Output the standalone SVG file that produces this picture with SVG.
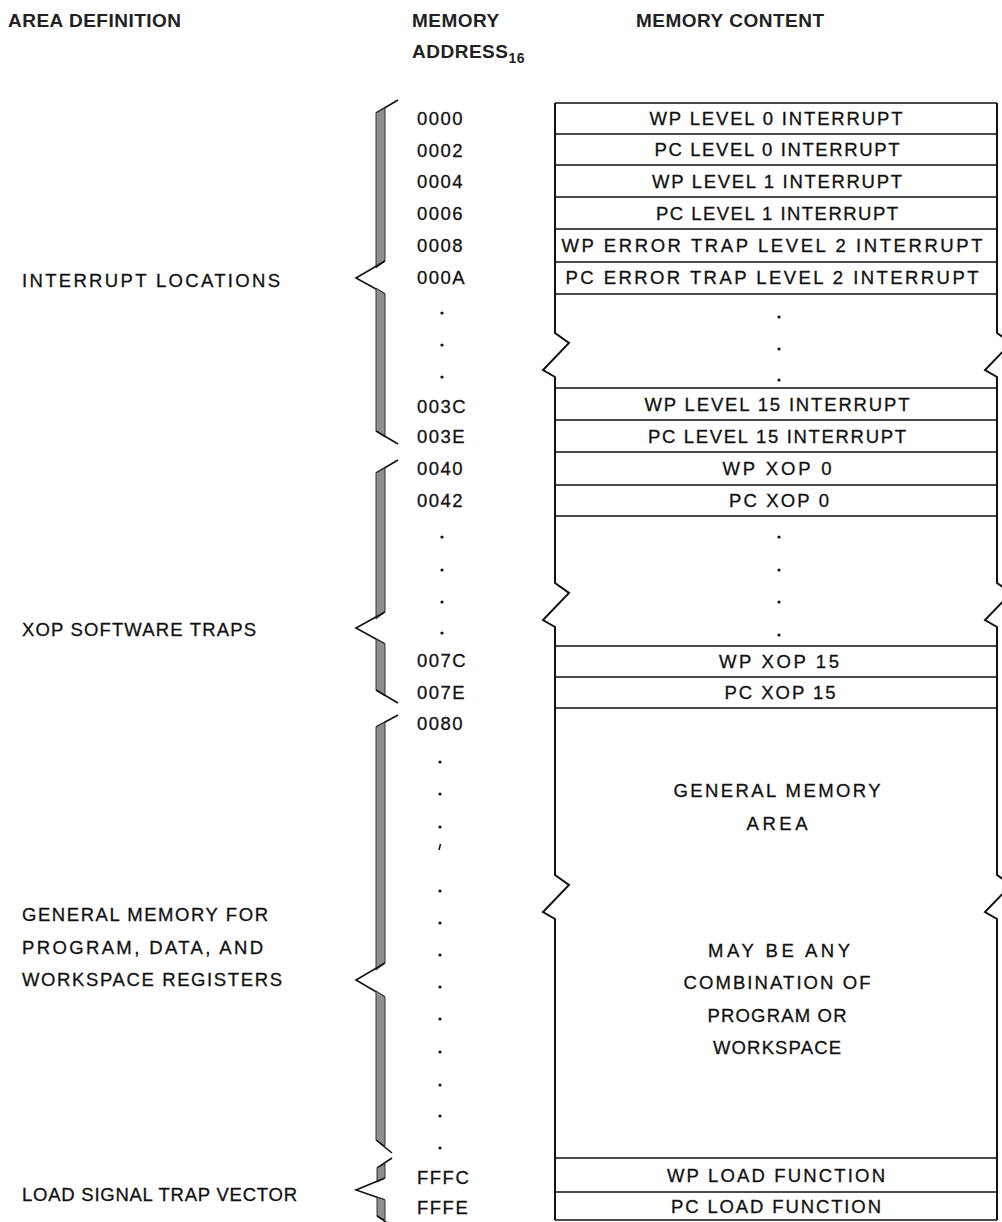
<svg xmlns="http://www.w3.org/2000/svg" width="1002" height="1222" viewBox="0 0 1002 1222">
<style>
text{font-family:"Liberation Sans",Arial,Helvetica,sans-serif;fill:#111}
.hd{font-size:19px;font-weight:bold;letter-spacing:0.5px;fill:#222}
.sub{font-size:14px;font-weight:bold;fill:#222}
.lb{font-size:18.5px;stroke:#111;stroke-width:0.3}
.ad{font-size:18.5px;letter-spacing:1.5px;stroke:#111;stroke-width:0.3}
.ct{font-size:18.5px;text-anchor:middle;stroke:#111;stroke-width:0.3}
.ln{stroke:#111;stroke-width:1.6;fill:none}
.bx{stroke:#111;stroke-width:2;fill:none;stroke-linejoin:miter}
.band{fill:#8e8e8e;stroke:#333;stroke-width:1}
.tick{stroke:#111;stroke-width:1.6;fill:none}
.dot{fill:#111}
</style>
<rect width="1002" height="1222" fill="#fff"/>

<g id="headers">
<text class="hd" x="8" y="27">AREA DEFINITION</text>
<text class="hd" x="412" y="27">MEMORY</text>
<text class="hd" x="412" y="58">ADDRESS<tspan class="sub" dy="5">16</tspan></text>
<text class="hd" x="636" y="27">MEMORY CONTENT</text>
</g>

<g id="area-labels">
<text class="lb" x="22" y="287" textLength="258">INTERRUPT LOCATIONS</text>
<text class="lb" x="22" y="636" textLength="234">XOP SOFTWARE TRAPS</text>
<text class="lb" x="22" y="921" textLength="246">GENERAL MEMORY FOR</text>
<text class="lb" x="22" y="954" textLength="241">PROGRAM, DATA, AND</text>
<text class="lb" x="22" y="986" textLength="260">WORKSPACE REGISTERS</text>
<text class="lb" x="22" y="1201" textLength="275">LOAD SIGNAL TRAP VECTOR</text>
</g>

<g id="braces">
<g id="brace-interrupt">
<path class="tick" d="M398,100 L376,113"/>
<polygon class="band" points="376,113 385,108 385,261 376,268"/>
<path class="tick" d="M385,261 L356,278 L385,294"/>
<polygon class="band" points="376,288 385,294 385,437 376,431"/>
<path class="tick" d="M376,431 L398,444"/>
</g>
<g id="brace-xop">
<path class="tick" d="M398,460 L376,473"/>
<polygon class="band" points="376,473 385,468 385,612 376,619"/>
<path class="tick" d="M385,612 L356,628 L385,644"/>
<polygon class="band" points="376,639 385,644 385,696 376,690"/>
<path class="tick" d="M376,690 L398,703"/>
</g>
<g id="brace-general">
<path class="tick" d="M398,715 L376,727"/>
<polygon class="band" points="376,727 385,722 385,963 376,970"/>
<path class="tick" d="M385,963 L356,980 L385,997"/>
<polygon class="band" points="376,991 385,997 385,1146 376,1140"/>
<path class="tick" d="M376,1140 L392,1153"/>
</g>
<g id="brace-load">
<path class="tick" d="M392,1158 L377,1168"/>
<polygon class="band" points="377,1168 385,1164 385,1178 377,1182"/>
<path class="tick" d="M385,1178 L356,1190 L385,1200"/>
<polygon class="band" points="377,1197 385,1200 385,1220 377,1216"/>
<path class="tick" d="M377,1216 L392,1226"/>
</g>
</g>

<g id="addresses">
<text class="ad" x="417" y="125">0000</text>
<text class="ad" x="417" y="157">0002</text>
<text class="ad" x="417" y="188">0004</text>
<text class="ad" x="417" y="220">0006</text>
<text class="ad" x="417" y="252">0008</text>
<text class="ad" x="417" y="284">000A</text>
<text class="ad" x="417" y="413">003C</text>
<text class="ad" x="417" y="443">003E</text>
<text class="ad" x="417" y="475">0040</text>
<text class="ad" x="417" y="507">0042</text>
<text class="ad" x="417" y="667">007C</text>
<text class="ad" x="417" y="699">007E</text>
<text class="ad" x="417" y="730">0080</text>
<text class="ad" x="417" y="1184">FFFC</text>
<text class="ad" x="417" y="1214">FFFE</text>
</g>

<g id="address-dots">
<circle class="dot" cx="442" cy="313" r="1.6"/>
<circle class="dot" cx="442" cy="345" r="1.6"/>
<circle class="dot" cx="442" cy="377" r="1.6"/>
<circle class="dot" cx="442" cy="537" r="1.6"/>
<circle class="dot" cx="442" cy="570" r="1.6"/>
<circle class="dot" cx="442" cy="602" r="1.6"/>
<circle class="dot" cx="442" cy="633" r="1.6"/>
<circle class="dot" cx="440" cy="762" r="1.6"/>
<circle class="dot" cx="440" cy="794" r="1.6"/>
<circle class="dot" cx="440" cy="827" r="1.6"/>
<path d="M440.5,844 L439,850" stroke="#111" stroke-width="1.6"/>
<circle class="dot" cx="440" cy="891" r="1.6"/>
<circle class="dot" cx="440" cy="923" r="1.6"/>
<circle class="dot" cx="440" cy="955" r="1.6"/>
<circle class="dot" cx="440" cy="987" r="1.6"/>
<circle class="dot" cx="440" cy="1019" r="1.6"/>
<circle class="dot" cx="440" cy="1052" r="1.6"/>
<circle class="dot" cx="440" cy="1085" r="1.6"/>
<circle class="dot" cx="440" cy="1116" r="1.6"/>
<circle class="dot" cx="440" cy="1148" r="1.6"/>
</g>

<g id="memory-content">
<g id="content-outline">
<path class="bx" d="M555,103 L555,333 L569,343 L543,370 L555,377 L555,583 L569,593 L543,620 L555,627 L555,875 L569,885 L543,912 L555,919 L555,1220"/>
<path class="bx" d="M997,103 L997,333 L1011,343 L985,370 L997,377 L997,583 L1011,593 L985,620 L997,627 L997,875 L1011,885 L985,912 L997,919 L997,1220"/>
<path class="ln" d="M555,103 H997 M555,134 H997 M555,165 H997 M555,197 H997 M555,229 H997 M555,262 H997 M555,294 H997 M555,388 H997 M555,420 H997 M555,452 H997 M555,485 H997 M555,516 H997 M555,646 H997 M555,677 H997 M555,708 H997 M555,1158 H997 M555,1192 H997 M555,1220 H997"/>
</g>
<g id="row-0000"><text class="ct" x="776" y="125" textLength="253">WP LEVEL 0 INTERRUPT</text></g>
<g id="row-0002"><text class="ct" x="777" y="156" textLength="245">PC LEVEL 0 INTERRUPT</text></g>
<g id="row-0004"><text class="ct" x="777" y="188" textLength="250">WP LEVEL 1 INTERRUPT</text></g>
<g id="row-0006"><text class="ct" x="777" y="220" textLength="242">PC LEVEL 1 INTERRUPT</text></g>
<g id="row-0008"><text class="ct" x="772" y="252" textLength="421">WP ERROR TRAP LEVEL 2 INTERRUPT</text></g>
<g id="row-000A"><text class="ct" x="772" y="284" textLength="413">PC ERROR TRAP LEVEL 2 INTERRUPT</text></g>
<g id="gap-1">
<circle class="dot" cx="779" cy="317" r="1.6"/>
<circle class="dot" cx="779" cy="349" r="1.6"/>
<circle class="dot" cx="779" cy="380" r="1.6"/>
</g>
<g id="row-003C"><text class="ct" x="777" y="411" textLength="265">WP LEVEL 15 INTERRUPT</text></g>
<g id="row-003E"><text class="ct" x="777" y="443" textLength="258">PC LEVEL 15 INTERRUPT</text></g>
<g id="row-0040"><text class="ct" x="777" y="475" textLength="109">WP XOP 0</text></g>
<g id="row-0042"><text class="ct" x="779" y="507" textLength="100">PC XOP 0</text></g>
<g id="gap-2">
<circle class="dot" cx="779" cy="537" r="1.6"/>
<circle class="dot" cx="779" cy="570" r="1.6"/>
<circle class="dot" cx="779" cy="602" r="1.6"/>
<circle class="dot" cx="779" cy="635" r="1.6"/>
</g>
<g id="row-007C"><text class="ct" x="779" y="668" textLength="120">WP XOP 15</text></g>
<g id="row-007E"><text class="ct" x="780" y="699" textLength="111">PC XOP 15</text></g>
<g id="general-area">
<text class="ct" x="777" y="797" textLength="207">GENERAL MEMORY</text>
<text class="ct" x="777" y="830" textLength="61">AREA</text>
<text class="ct" x="779" y="957" textLength="142">MAY BE ANY</text>
<text class="ct" x="777" y="989" textLength="187">COMBINATION OF</text>
<text class="ct" x="777" y="1022" textLength="139">PROGRAM OR</text>
<text class="ct" x="777" y="1054" textLength="128">WORKSPACE</text>
</g>
<g id="row-FFFC"><text class="ct" x="776" y="1182" textLength="218">WP LOAD FUNCTION</text></g>
<g id="row-FFFE"><text class="ct" x="776" y="1213" textLength="210">PC LOAD FUNCTION</text></g>
</g>
</svg>
